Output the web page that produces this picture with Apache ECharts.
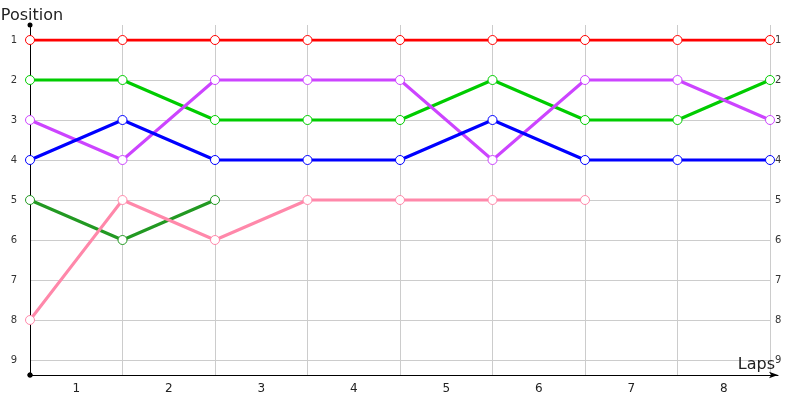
<!DOCTYPE html>
<html>
<head>
<meta charset="utf-8">
<script src="https://cdn.jsdelivr.net/npm/echarts@6/dist/echarts.min.js"></script>
<style>
  html, body { margin: 0; padding: 0; background: #fff; }
  #main { width: 800px; height: 400px; }
</style>
</head>
<body>
<div id="main"></div>
<script>
// lap labels shown between the gridlines
var lapLabels = ['1', '2', '3', '4', '5', '6', '7', '8'];
var positionTicks = [1, 2, 3, 4, 5, 6, 7, 8, 9];

// positions at each gridline (index 0..8)
var redPos = [1, 1, 1, 1, 1, 1, 1, 1, 1];
var greenPos = [2, 2, 3, 3, 3, 2, 3, 3, 2];
var violetPos = [3, 4, 2, 2, 2, 4, 2, 2, 3];
var bluePos = [4, 3, 4, 4, 4, 3, 4, 4, 4];
var darkGreenPos = [5, 6, 5];
var pinkPos = [8, 5, 6, 5, 5, 5, 5];

var colors = ['#ff0000', '#00cc00', '#cc44ff', '#0000ff', '#229922', '#ff88aa'];
var seriesData = [redPos, greenPos, violetPos, bluePos, darkGreenPos, pinkPos];

var font = 'DejaVu Sans';

function toPoints (arr) {
  return arr.map(function (v, i) { return [i, v]; });
}

var chart = echarts.init(document.getElementById('main'));

var option = {
  animation: false,
  textStyle: { fontFamily: font },
  grid: [
    { left: 30, right: 30, top: 40, bottom: 40, outerBoundsMode: 'none', containLabel: false },
    { left: 30, right: 22, top: 25, bottom: 25, outerBoundsMode: 'none', containLabel: false }
  ],
  xAxis: [
    {
      // data axis
      type: 'value', gridIndex: 0, min: 0, max: 8, interval: 1,
      axisLine: { show: false }, axisTick: { show: false },
      axisLabel: { show: false }, splitLine: { show: false }
    },
    {
      // frame axis with vertical gridlines
      type: 'value', gridIndex: 1, min: 0, max: 748 / 92.5, interval: 1,
      name: 'Laps',
      nameLocation: 'end',
      nameGap: -3,
      nameTextStyle: { fontSize: 16, color: '#222', align: 'right', verticalAlign: 'bottom', padding: [0, 0, 2, 0], fontFamily: font },
      axisLine: {
        show: true,
        lineStyle: { color: '#000', width: 1 },
        symbol: ['circle', 'arrow'],
        symbolSize: [5, 9],
        symbolOffset: [0, 0]
      },
      axisTick: { show: false },
      axisLabel: { show: false },
      splitLine: { show: true, showMinLine: false, showMaxLine: false, lineStyle: { color: '#cccccc', width: 1 } }
    },
    {
      // lap labels
      type: 'category', gridIndex: 0, data: lapLabels, boundaryGap: true,
      position: 'bottom', offset: 15,
      axisLine: { show: false }, axisTick: { show: false }, splitLine: { show: false },
      axisLabel: { color: '#222', fontSize: 12, margin: 8 }
    }
  ],
  yAxis: [
    {
      type: 'value', gridIndex: 0, inverse: true, min: 1, max: 9, interval: 1,
      position: 'left',
      axisLine: { show: false }, axisTick: { show: false },
      axisLabel: { color: '#333', fontSize: 10, margin: 13 },
      splitLine: { show: true, lineStyle: { color: '#cccccc', width: 1 } }
    },
    {
      type: 'value', gridIndex: 0, inverse: true, min: 1, max: 9, interval: 1,
      position: 'right',
      axisLine: { show: false }, axisTick: { show: false },
      axisLabel: { color: '#333', fontSize: 10, margin: 5 },
      splitLine: { show: false }
    },
    {
      type: 'value', gridIndex: 1, min: 0, max: 1,
      name: 'Position',
      nameLocation: 'end',
      nameGap: 1,
      nameTextStyle: { fontSize: 16, color: '#222', fontFamily: font, padding: [0, 0, 0, 4] },
      axisLine: {
        show: true,
        lineStyle: { color: '#000', width: 1 },
        symbol: ['circle', 'circle'],
        symbolSize: [5, 5]
      },
      axisTick: { show: false },
      axisLabel: { show: false },
      splitLine: { show: false }
    }
  ],
  series: seriesData.map(function (arr, k) {
    return {
      type: 'line',
      xAxisIndex: 0,
      yAxisIndex: 0,
      data: toPoints(arr),
      symbol: 'circle',
      symbolSize: 9,
      z: 3 + k,
      lineStyle: { color: colors[k], width: 3 },
      itemStyle: { color: '#fff', borderColor: colors[k], borderWidth: 1 }
    };
  })
};

chart.setOption(option);
</script>
</body>
</html>
